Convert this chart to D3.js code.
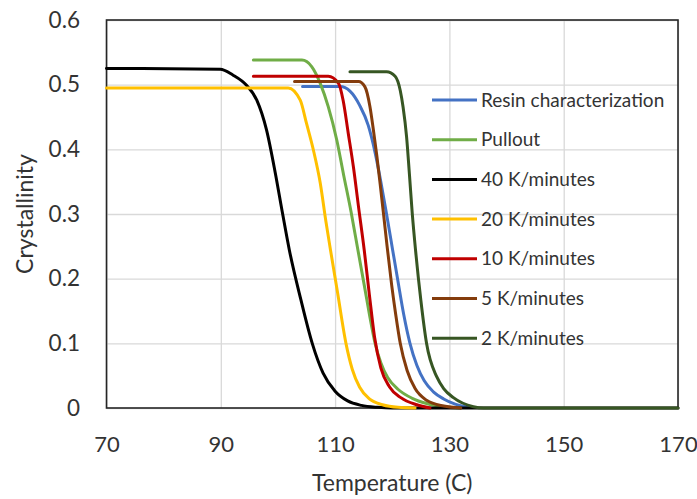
<!DOCTYPE html>
<html>
<head>
<meta charset="utf-8">
<script src="https://cdn.jsdelivr.net/npm/d3@7"></script>
<style>
html,body{margin:0;padding:0;background:#fff;}
svg{display:block;}
text{font-family:Lato,"Open Sans",sans-serif;fill:#333;}
</style>
</head>
<body>
<svg id="chart" width="697" height="499"></svg>
<script>
// ---- data (temperature in C, crystallinity) ----
const xTicks = [70, 90, 110, 130, 150, 170];
const yTicks = [0, 0.1, 0.2, 0.3, 0.4, 0.5, 0.6];

const resinCharacterization = [[104.3,0.497],[110.9,0.497],[112.6,0.490],[114.3,0.468],[115.8,0.437],[117.0,0.395],[118.0,0.350],[119.0,0.300],[120.0,0.248],[121.0,0.196],[122.0,0.145],[123.1,0.100],[124.3,0.066],[125.6,0.042],[127.2,0.025],[129.0,0.014],[131.0,0.006],[133.3,0.001]];
const pullout = [[95.7,0.538],[104.2,0.538],[105.9,0.528],[107.4,0.502],[108.8,0.466],[110.3,0.414],[111.5,0.360],[112.8,0.303],[114.0,0.244],[115.1,0.190],[116.0,0.145],[117.0,0.100],[118.0,0.070],[119.2,0.047],[121.0,0.029],[123.5,0.015],[126.0,0.007],[129.0,0.002],[132.0,0]];
const k40 = [[70,0.525],[89.9,0.524],[92.1,0.515],[94.5,0.499],[96.3,0.476],[98.0,0.430],[99.5,0.365],[100.8,0.301],[102.0,0.244],[104.0,0.168],[106.0,0.100],[107.9,0.054],[110.0,0.026],[112.2,0.011],[114.6,0.004],[117.5,0.001],[120,0],[170,0]];
const k20 = [[70,0.495],[101.8,0.495],[103.9,0.476],[105.0,0.440],[106.2,0.399],[107.4,0.348],[108.4,0.288],[109.2,0.244],[110.4,0.180],[111.9,0.100],[113.0,0.060],[114.3,0.032],[116.0,0.014],[118.3,0.005],[121.0,0.001],[124.0,0]];
const k10 = [[95.7,0.513],[108.8,0.513],[110.6,0.502],[111.4,0.476],[112.3,0.425],[113.2,0.373],[114.1,0.311],[115.1,0.244],[116.0,0.175],[116.9,0.110],[118.0,0.062],[119.5,0.033],[121.5,0.016],[124.3,0.005],[126.6,0]];
const k5 = [[102.9,0.505],[114.1,0.505],[115.2,0.497],[116.1,0.466],[116.7,0.430],[117.3,0.390],[117.9,0.345],[118.5,0.298],[119.1,0.250],[119.9,0.190],[120.6,0.145],[121.4,0.100],[122.6,0.058],[124.0,0.030],[126.0,0.012],[129.0,0.003],[132.0,0]];
const k2 = [[112.6,0.520],[119.0,0.520],[120.5,0.513],[121.4,0.491],[121.9,0.465],[122.5,0.420],[123.0,0.362],[123.5,0.301],[124.1,0.242],[125.0,0.167],[126.0,0.100],[127.8,0.048],[129.0,0.030],[130.7,0.016],[134.2,0.002],[136.0,0],[170,0]];

const seriesNames = ["Resin characterization","Pullout","40 K/minutes","20 K/minutes","10 K/minutes","5 K/minutes","2 K/minutes"];
const seriesData = [resinCharacterization, pullout, k40, k20, k10, k5, k2];
const seriesColors = ["#4472C4","#70AD47","#000000","#FFC000","#C00000","#843C0C","#375623"];

// ---- layout ----
const svg = d3.select("#chart");
const L = 106.5, R = 678, T = 20, B = 408;
const x = d3.scaleLinear().domain([70,170]).range([L,R]);
const y = d3.scaleLinear().domain([0,0.6]).range([B,T]);

// grid + y axis
const gy = svg.append("g").attr("transform",`translate(${L},0)`)
  .call(d3.axisLeft(y).tickValues(yTicks).tickSize(-(R-L)).tickPadding(26.5).tickFormat(d3.format("~g")));
gy.select(".domain").remove();
gy.selectAll(".tick line").attr("stroke","#d9d9d9").attr("stroke-width",1.3);
gy.selectAll(".tick text").attr("font-size",22.5).attr("fill","#404040").style("font-family","Lato");

const gx = svg.append("g").attr("transform",`translate(0,${B})`)
  .call(d3.axisBottom(x).tickValues(xTicks).tickSize(-(B-T)).tickPadding(28));
gx.select(".domain").remove();
gx.selectAll(".tick line").attr("stroke","#d9d9d9").attr("stroke-width",1.3);
gx.selectAll(".tick text").attr("font-size",22).attr("fill","#404040").style("font-family","Lato");

// plot border
svg.append("rect").attr("x",L).attr("y",T).attr("width",R-L).attr("height",B-T)
  .attr("fill","none").attr("stroke","#262626").attr("stroke-width",1.6);

// series
const line = d3.line().x(d=>x(d[0])).y(d=>y(d[1])).curve(d3.curveMonotoneX);
seriesData.forEach((s,i)=>{
  svg.append("path").datum(s).attr("d",line)
    .attr("fill","none").attr("stroke",seriesColors[i]).attr("stroke-width",3)
    .attr("stroke-linejoin","round").attr("stroke-linecap","round");
});

// legend
const legY0 = 100, legDy = 39.7;
const leg = svg.append("g");
seriesNames.forEach((n,i)=>{
  const yy = legY0 + i*legDy;
  leg.append("line").attr("x1",432).attr("x2",477).attr("y1",yy).attr("y2",yy)
    .attr("stroke",seriesColors[i]).attr("stroke-width",3);
  leg.append("text").attr("x",481).attr("y",yy).attr("dy","0.35em")
    .attr("font-size",19).attr("fill","#333").text(n);
});

// axis titles
svg.append("text").attr("x",(L+R)/2).attr("y",491).attr("text-anchor","middle")
  .attr("font-size",23).attr("fill","#333").text("Temperature (C)");
svg.append("text").attr("transform",`translate(33,${(T+B)/2}) rotate(-90)`)
  .attr("text-anchor","middle").attr("font-size",23).attr("fill","#333").text("Crystallinity");
</script>
</body>
</html>
